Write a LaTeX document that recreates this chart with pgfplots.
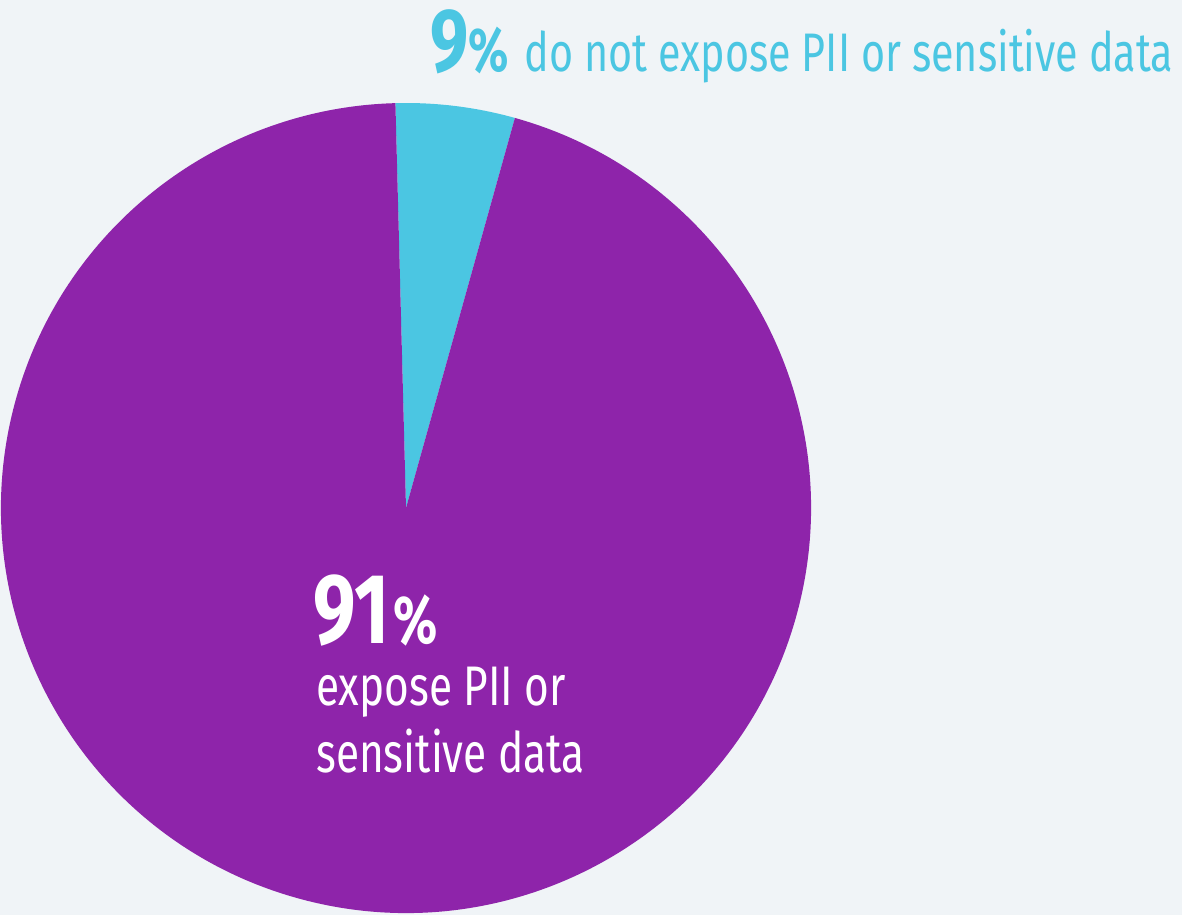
\documentclass[border=0pt]{standalone}
\usepackage{pgfplots}
\usepackage{pgfplotstable}
\pgfplotsset{compat=1.18}
\usepackage{fontspec}
\setmainfont[FakeStretch=0.76]{Fira Sans}
\definecolor{bg}{HTML}{F0F4F7}
\definecolor{pur}{HTML}{8E24AA}
\definecolor{cya}{HTML}{4BC6E2}
\pgfplotstableread{
label value
notexposed 4.75
exposed 95.25
}\piedata
\pgfplotstablegetelem{0}{value}\of\piedata \let\va\pgfplotsretval
\pgfplotstablegetelem{1}{value}\of\piedata \let\vb\pgfplotsretval
\pgfmathsetmacro\aStart{91.5}
\pgfmathsetmacro\aMid{\aStart-3.6*\va}
\pgfmathsetmacro\aEnd{\aMid-3.6*\vb}
\begin{document}
\begin{tikzpicture}
\begin{axis}[
  scale only axis, width=1182bp, height=915bp,
  xmin=0, xmax=1182, ymin=0, ymax=915,
  hide axis, clip=false,
]
\coordinate (ll) at (axis cs:0,0);
\coordinate (ur) at (axis cs:1182,915);
\fill[bg] (axis cs:0,0) rectangle (axis cs:1182,915);
\fill[cya] (axis cs:406,407) -- ++(\aStart:405bp) arc[start angle=\aStart, end angle=\aMid, radius=405bp] -- cycle;
\fill[pur] (axis cs:406,407) -- ++(\aMid:405bp) arc[start angle=\aMid, end angle=\aEnd, radius=405bp] -- cycle;
\node[anchor=base west, inner sep=0pt, text=cya] at (axis cs:430,843)
  {{\bfseries\fontsize{90}{90}\selectfont 9}{\bfseries\fontsize{62}{62}\selectfont\%}\hspace{16bp}{\fontsize{54.5}{60}\selectfont do not expose PII or sensitive data}};
\node[anchor=base west, inner sep=0pt, text=white] at (axis cs:313,272)
  {{\bfseries\fontsize{100}{100}\selectfont 91}\hspace{4bp}{\bfseries\fontsize{68}{68}\selectfont\%}};
\node[anchor=base west, inner sep=0pt, text=white] at (axis cs:316,210)
  {\fontsize{56}{60}\selectfont expose PII or};
\node[anchor=base west, inner sep=0pt, text=white] at (axis cs:316,143)
  {\fontsize{56}{60}\selectfont sensitive data};
\end{axis}
\pgfresetboundingbox
\path[use as bounding box] (ll) rectangle (ur);
\end{tikzpicture}
\end{document}
